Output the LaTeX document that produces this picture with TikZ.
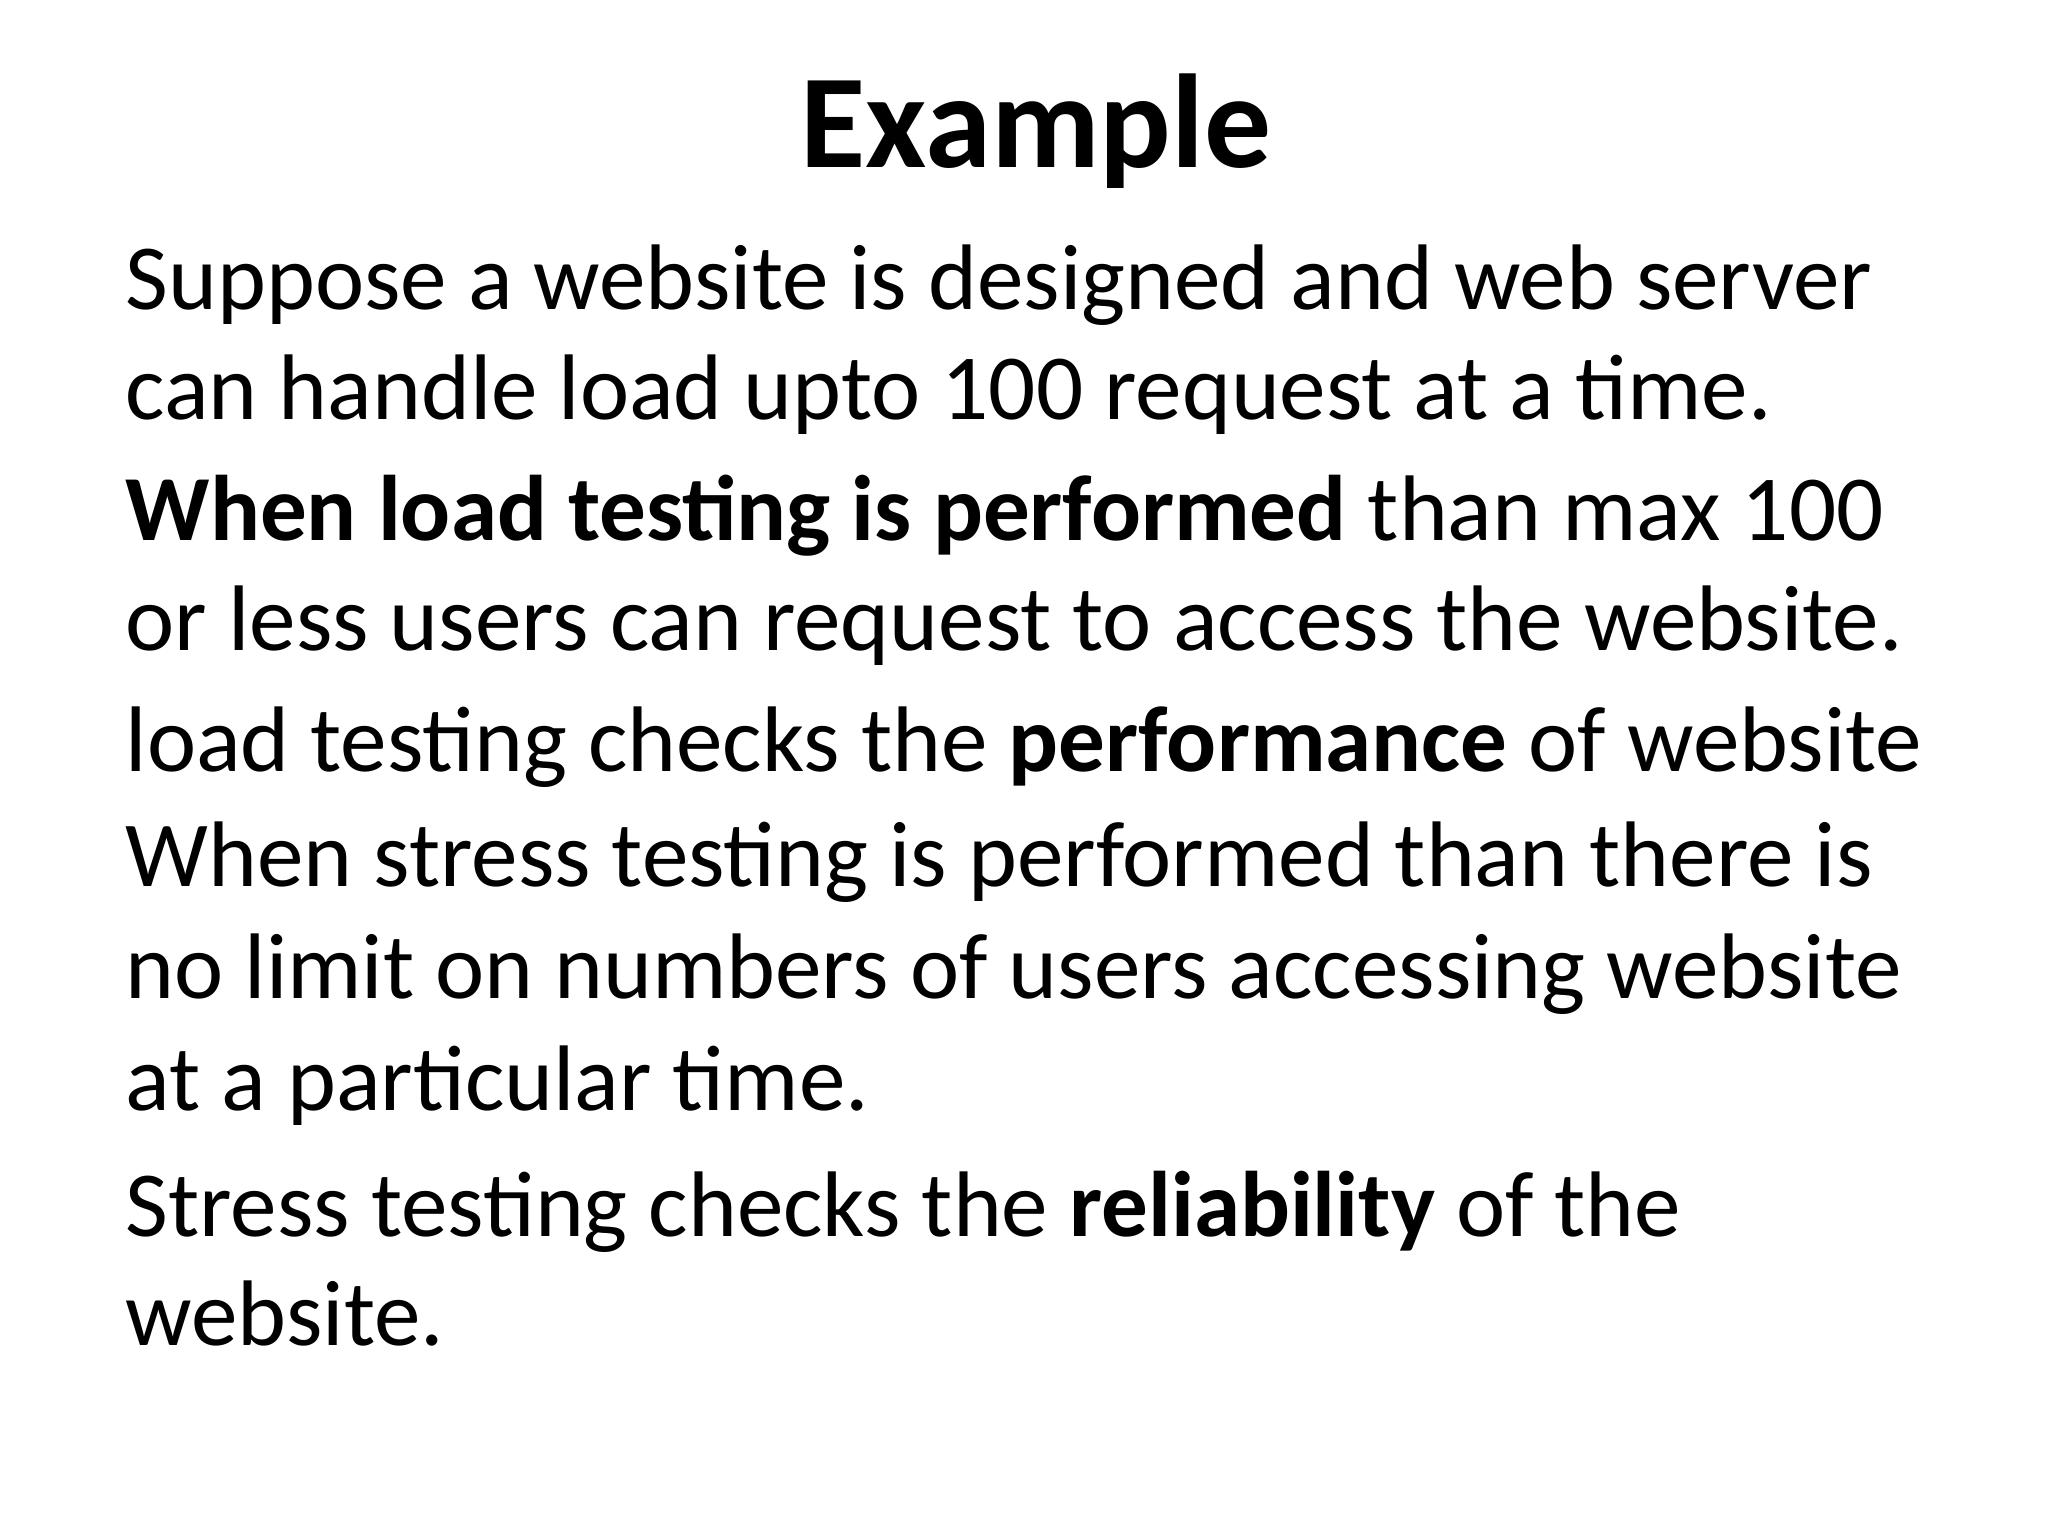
\documentclass[tikz,border=0pt]{standalone}
\usepackage{fontspec}
\setmainfont{Carlito}
\begin{document}
\begin{tikzpicture}[x=1cm,y=1cm,
  ln/.style={anchor=base west,inner sep=0pt,font=\fontsize{26.5pt}{30pt}\selectfont}]
\useasboundingbox[fill=white] (0,0) rectangle (20.48,15.36);
\node[anchor=base,inner sep=0pt,font=\fontsize{38pt}{44pt}\selectfont\bfseries] (title) at (10.36,15.36-1.68) {Example};
\node[ln] (l1) at (1.25,15.36-3.10) {Suppose a website is designed and web server};
\node[ln] (l2) at (1.25,15.36-4.20) {can handle load upto 100 request at a time.};
\node[ln] (l3) at (1.25,15.36-5.41) {\textbf{When load testing is performed} than max 100};
\node[ln] (l4) at (1.25,15.36-6.51) {or less users can request to access the website.};
\node[ln] (l5) at (1.25,15.36-7.72) {load testing checks the \textbf{performance} of website};
\node[ln] (l6) at (1.25,15.36-8.87) {When stress testing is performed than there is};
\node[ln] (l7) at (1.25,15.36-9.99) {no limit on numbers of users accessing website};
\node[ln] (l8) at (1.25,15.36-11.11) {at a particular time.};
\node[ln] (l9) at (1.25,15.36-12.37) {Stress testing checks the \textbf{reliability} of the};
\node[ln] (l10) at (1.25,15.36-13.46) {website.};
\end{tikzpicture}
\end{document}
